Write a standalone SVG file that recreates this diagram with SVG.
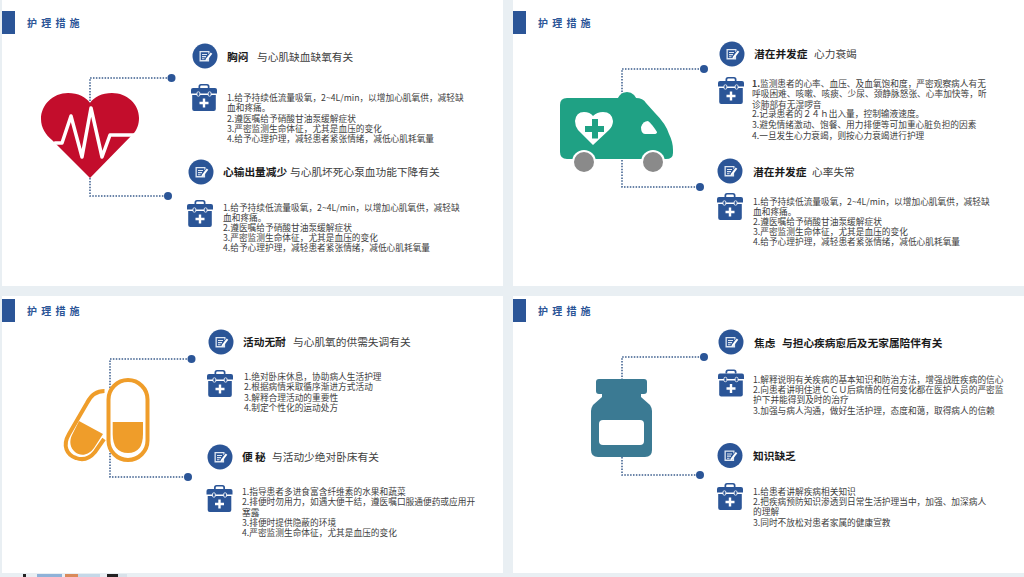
<svg xmlns="http://www.w3.org/2000/svg" width="1024" height="577" viewBox="0 0 1024 577">
<style>
text{font-family:"Noto Sans CJK SC","Liberation Sans",sans-serif;fill:#404040}
.b{font-size:8.7px}
.h{font-size:10.7px}
.k{font-weight:700;fill:#1a1a1a}
.t{font-size:10px;font-weight:700;fill:#2b5597;letter-spacing:4.2px}
.p{fill:#fff}
.bar{fill:#2b5597}
.c{fill:none;stroke:#3a5c8c;stroke-width:1.5;stroke-dasharray:1.5 1.4}
.d{fill:#2b5597}
.blue{fill:#2b5597}
</style>
<defs>
<symbol id="note" viewBox="0 0 25 25" width="25" height="25" overflow="visible">
<circle cx="12.5" cy="12.5" r="12.5" class="blue"/>
<path d="M7 7.5H17V9.5L15.8 10.8V8.8H8.3V16.5H15.2V14.5L16.6 13V18H7Z" fill="#dfe7f2"/>
<path d="M9.5 10.5H14.5V11.6H9.5ZM9.5 12.6H13.5V13.7H9.5ZM9.5 14.7H12V15.8H9.5Z" fill="#dfe7f2"/>
<path d="M13.2 15.6L18.2 9L19.8 10.2L14.8 16.8L13 17.2Z" fill="#fff"/>
</symbol>
<symbol id="box" viewBox="0 0 26 27" width="26" height="27" overflow="visible">
<path d="M7.5 4V2.5Q7.5 0 10 0H16Q18.500 0 18.500 2.500V4H16.800V2.800Q16.800 1.600 15.600 1.600H10.400Q9.200 1.600 9.200 2.800V4Z" class="blue"/>
<path d="M2 4H24Q26 4 26 6V9.500H0V6Q0 4 2 4Z" class="blue"/>
<path d="M1.200 11H24.800V25Q24.800 27 22.800 27H3.200Q1.200 27 1.200 25Z" class="blue"/>
<rect x="6" y="7.800" width="2.800" height="4.400" rx="1.200" class="blue" stroke="#fff" stroke-width=".8"/>
<rect x="17.200" y="7.800" width="2.800" height="4.400" rx="1.200" class="blue" stroke="#fff" stroke-width=".8"/>
<path d="M11.800 14.500H14.200V17.800H17.500V20.200H14.200V23.500H11.800V20.200H8.500V17.800H11.800Z" fill="#fff"/>
</symbol>
</defs>
<rect width="1024" height="577" fill="#e9eff3"/>
<rect x="2" y="0" width="501" height="286" fill="#fff"/>
<rect x="513" y="0" width="511" height="286" fill="#fff"/>
<rect x="2" y="296" width="501" height="277" fill="#fff"/>
<rect x="513" y="296" width="511" height="277" fill="#fff"/>
<g id="bottom-edge">
<rect x="23" y="574" width="3" height="3" fill="#222"/><rect x="37" y="574" width="25" height="3" fill="#8fb2d8"/><rect x="65" y="574" width="13" height="3" fill="#d98a5a"/><rect x="78" y="574" width="22" height="3" fill="#c5d8e8"/><rect x="107" y="574" width="11" height="3" fill="#222"/><rect x="118" y="574" width="9" height="3" fill="#d8e2ea"/>
</g>
<g id="headers">
<rect class="bar" x="2" y="11" width="13" height="23"/><text class="t" x="27" y="27">护理措施</text>
<rect class="bar" x="513" y="11" width="13" height="23"/><text class="t" x="538" y="27">护理措施</text>
<rect class="bar" x="2" y="299" width="13" height="23"/><text class="t" x="27" y="315">护理措施</text>
<rect class="bar" x="513" y="299" width="13" height="23"/><text class="t" x="538" y="315">护理措施</text>
</g>
<g id="connectors">
<path class="c" d="M90 104V78H171"/><path class="c" d="M90 178V196H168"/>
<circle class="d" cx="171.500" cy="78" r="4"/><circle class="d" cx="168" cy="196" r="4"/>
<path class="c" d="M622 95V69H704"/><path class="c" d="M622 160V187H700"/>
<circle class="d" cx="704" cy="69" r="4"/><circle class="d" cx="700" cy="187" r="4"/>
<path class="c" d="M110 388V359H191"/><path class="c" d="M110 450V477H188"/>
<circle class="d" cx="191.500" cy="359" r="4"/><circle class="d" cx="188" cy="477" r="4"/>
<path class="c" d="M622 380V357H704"/><path class="c" d="M622 457V475H700"/>
<circle class="d" cx="704" cy="357" r="4"/><circle class="d" cx="700" cy="475" r="4"/>
</g>
<g id="heart">
<path fill="#c30d2c" d="M90 103C86 97 78 93 68 93C53 93 41 105 41 119C41 128 46 135 52 140L90 178L133 134C137 130 139 124 139 118C139 104 127 93 112 93C102 93 94 97 90 103Z"/>
<path fill="none" stroke="#fff" stroke-width="3.500" stroke-linejoin="round" stroke-linecap="round" d="M55 143H62L71 116L82 157L91 108L102 157L110 135H139"/>
</g>
<g id="ambulance">
<circle cx="627" cy="102" r="10" fill="#1fa184"/>
<path fill="#1fa184" d="M567 98H636Q643 98 646 103L655 113Q666 124 669 134Q673 142 673 150V153Q673 159 666 159H567Q560 159 560 152V105Q560 98 567 98Z"/>
<path fill="#fff" d="M641 127Q643 121 648 121Q652 124 657 132Q657 134 654 134H645Q641 134 641 127Z"/>
<path fill="#fff" d="M593 145L578 130Q575 126 575 121Q576 112 584 112Q590 112 593 116Q597 112 603 112Q612 112 613 121Q613 126 609 130Z"/>
<path fill="#1fa184" d="M592 119H598V126H604V132H598V138.500H592V132H585V126H592Z"/>
<circle cx="584" cy="162" r="12" fill="#fff"/><circle cx="584" cy="162" r="10" fill="#8a8a8a"/>
<circle cx="653" cy="162" r="12" fill="#fff"/><circle cx="653" cy="162" r="10" fill="#8a8a8a"/>
</g>
<g id="pills">
<rect x="108.500" y="380" width="39" height="80" rx="19.500" fill="#fff" stroke="#ef9d2a" stroke-width="4"/>
<path fill="#ef9d2a" d="M112.700 422H143V434Q143 453 128 453Q112.700 453 112.700 434Z"/>
<path fill="none" stroke="#ef9d2a" stroke-width="4" d="M104.500 391C96 391 91 395 87 403L69 434C62 446 67 455 76 458C84 461 90 458 95 452L104 439"/>
<path fill="#ef9d2a" d="M79 421L103 434L94 448C89 455 81 457 75 452C70 448 69 441 72 435Z"/>
</g>
<g id="bottle">
<path fill="#3b7a93" d="M599 379H644Q647 379 647 382V391Q647 394 644 394H641V397L650 405Q652 408 652 411V450Q652 457 645 457H598Q591 457 591 450V411Q591 408 593 405L602 397V394H599Q596 394 596 391V382Q596 379 599 379Z"/>
<rect x="599" y="420" width="45" height="25" rx="4" fill="#fff"/>
</g>
<g id="n1"><use href="#note" x="192.500" y="43.500"/><use href="#box" x="191" y="84"/>
<text class="h" x="227" y="61"><tspan class="k">胸闷</tspan></text><text class="h" x="257" y="61">与心肌缺血缺氧有关</text>
<text class="b"><tspan x="227" y="101">1.给予持续低流量吸氧，2~4L/min，以增加心肌氧供，减轻缺</tspan><tspan x="227" y="111">血和疼痛。</tspan><tspan x="227" y="121.500">2.遵医嘱给予硝酸甘油泵缓解症状</tspan><tspan x="227" y="131.500">3.严密监测生命体征，尤其是血压的变化</tspan><tspan x="227" y="142">4.给予心理护理，减轻患者紧张情绪，减低心肌耗氧量</tspan></text></g>
<g id="n2"><use href="#note" x="188.500" y="159.500"/><use href="#box" x="187" y="200"/>
<text class="h" x="223" y="176"><tspan class="k">心输出量减少</tspan></text><text class="h" x="290" y="176">与心肌坏死心泵血功能下降有关</text>
<text class="b"><tspan x="223" y="211">1.给予持续低流量吸氧，2~4L/min，以增加心肌氧供，减轻缺</tspan><tspan x="223" y="221">血和疼痛。</tspan><tspan x="223" y="231">2.遵医嘱给予硝酸甘油泵缓解症状</tspan><tspan x="223" y="241">3.严密监测生命体征，尤其是血压的变化</tspan><tspan x="223" y="251">4.给予心理护理，减轻患者紧张情绪，减低心肌耗氧量</tspan></text></g>
<g id="n3"><use href="#note" x="719.500" y="41.500"/><use href="#box" x="718" y="77"/>
<text class="h" x="754" y="58"><tspan class="k">潜在并发症</tspan></text><text class="h" x="814" y="58">心力衰竭</text>
<text class="b"><tspan x="752" y="87"><tspan font-weight="700">1.</tspan>监测患者的心率、血压、及血氧饱和度，严密观察病人有无</tspan><tspan x="752" y="97">呼吸困难、咳嗽、咳痰、少尿、颈静脉怒张、心率加快等，听</tspan><tspan x="752" y="107.500">诊肺部有无湿啰音</tspan><tspan x="752" y="117">2.记录患者的２４ｈ出入量，控制输液速度。</tspan><tspan x="752" y="127.500">3.避免情绪激动、饱餐、用力排便等可加重心脏负担的因素</tspan><tspan x="752" y="138.500">4.一旦发生心力衰竭，则按心力衰竭进行护理</tspan></text></g>
<g id="n4"><use href="#note" x="717.500" y="158.500"/><use href="#box" x="717" y="193"/>
<text class="h" x="753" y="176"><tspan class="k">潜在并发症</tspan></text><text class="h" x="812" y="176">心率失常</text>
<text class="b"><tspan x="753" y="205">1.给予持续低流量吸氧，2~4L/min，以增加心肌氧供，减轻缺</tspan><tspan x="753" y="215">血和疼痛。</tspan><tspan x="753" y="225">2.遵医嘱给予硝酸甘油泵缓解症状</tspan><tspan x="753" y="235">3.严密监测生命体征，尤其是血压的变化</tspan><tspan x="753" y="245">4.给予心理护理，减轻患者紧张情绪，减低心肌耗氧量</tspan></text></g>
<g id="n5"><use href="#note" x="208.500" y="329.500"/><use href="#box" x="207" y="370"/>
<text class="h" x="243" y="346"><tspan class="k">活动无耐</tspan></text><text class="h" x="293" y="346">与心肌氧的供需失调有关</text>
<text class="b"><tspan x="244" y="380">1.绝对卧床休息，协助病人生活护理</tspan><tspan x="244" y="390">2.根据病情采取循序渐进方式活动</tspan><tspan x="244" y="400.500">3.解释合理活动的重要性</tspan><tspan x="244" y="410.500">4.制定个性化的运动处方</tspan></text></g>
<g id="n6"><use href="#note" x="207.500" y="444.500"/><use href="#box" x="206.500" y="485"/>
<text class="h" x="242" y="461"><tspan class="k">便 秘</tspan></text><text class="h" x="272" y="461">与活动少绝对卧床有关</text>
<text class="b"><tspan x="242" y="495">1.指导患者多进食富含纤维素的水果和蔬菜</tspan><tspan x="242" y="505">2.排便时勿用力，如遇大便干结，遵医嘱口服通便药或应用开</tspan><tspan x="242" y="516">塞露</tspan><tspan x="242" y="526">3.排便时提供隐蔽的环境</tspan><tspan x="242" y="536">4.严密监测生命体征，尤其是血压的变化</tspan></text></g>
<g id="n7"><use href="#note" x="718.500" y="329.500"/><use href="#box" x="718" y="369.500"/>
<text class="h" x="754" y="347"><tspan class="k">焦虑</tspan></text><text class="h" x="782" y="347"><tspan class="k">与担心疾病愈后及无家属陪伴有关</tspan></text>
<text class="b"><tspan x="753" y="383">1.解释说明有关疾病的基本知识和防治方法，增强战胜疾病的信心</tspan><tspan x="753" y="393">2.向患者讲明住进ＣＣＵ后病情的任何变化都在医护人员的严密监</tspan><tspan x="753" y="403">护下并能得到及时的治疗</tspan><tspan x="753" y="413.500">3.加强与病人沟通，做好生活护理，态度和蔼，取得病人的信赖</tspan></text></g>
<g id="n8"><use href="#note" x="717.500" y="443"/><use href="#box" x="717" y="483"/>
<text class="h" x="753" y="460"><tspan class="k">知识缺乏</tspan></text>
<text class="b"><tspan x="753" y="495">1.给患者讲解疾病相关知识</tspan><tspan x="753" y="505">2.把疾病预防知识渗透到日常生活护理当中，加强、加深病人</tspan><tspan x="753" y="515">的理解</tspan><tspan x="753" y="526">3.同时不放松对患者家属的健康宣教</tspan></text></g>
</svg>
